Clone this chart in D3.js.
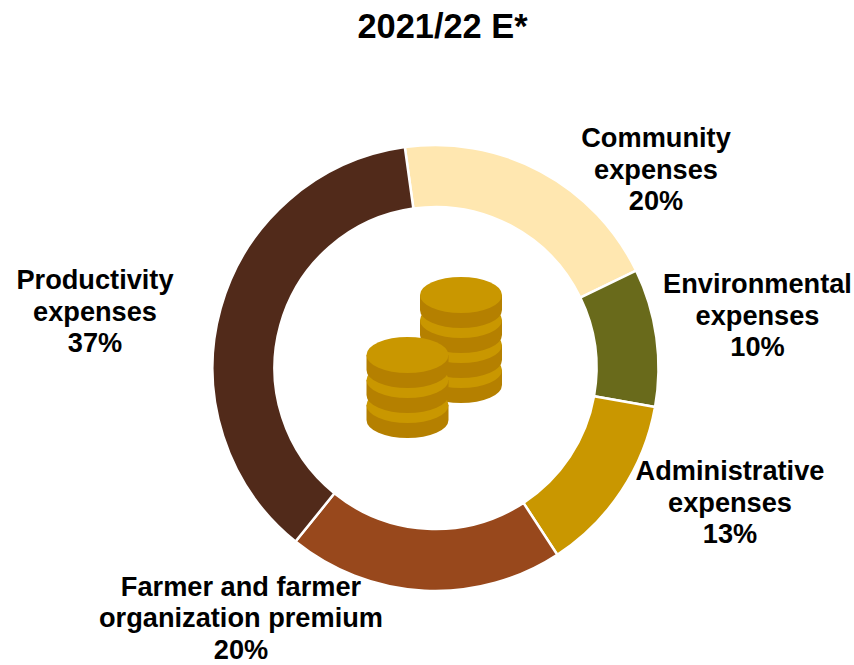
<!DOCTYPE html>
<html><head><meta charset="utf-8">
<script src="https://cdn.jsdelivr.net/npm/d3@7/dist/d3.min.js"></script>
<style>html,body{margin:0;padding:0;background:#fff}</style></head>
<body><svg id="c" width="854" height="665"></svg>
<script>
const title = "2021/22 E*";
const categories = ["Community expenses","Environmental expenses","Administrative expenses","Farmer and farmer organization premium","Productivity expenses"];
const values = [20,10,13,20,37];
const colors = ["#FFE7B0","#696A1B","#C99700","#98481C","#512A1A"];
const labelLines = [["Community","expenses","20%"],["Environmental","expenses","10%"],["Administrative","expenses","13%"],["Farmer and farmer","organization premium","20%"],["Productivity","expenses","37%"]];
const labelPos = [[656,139],[757.5,285],[730,472],[241,587.5],[95,281]];
const svg = d3.select("#c");
const font = "'Liberation Sans',Arial,sans-serif";
svg.append("text").attr("x",442.5).attr("y",37.5).attr("text-anchor","middle").attr("font-family",font).attr("font-weight",700).attr("font-size",34.4).attr("fill","#000").text(title);
const cx=435.5, cy=368, R=223, r=161;
const start=-0.138;
const arcs=d3.pie().sort(null).startAngle(start).endAngle(start+2*Math.PI)(values);
const arc=d3.arc().innerRadius(r).outerRadius(R);
const g=svg.append("g").attr("transform",`translate(${cx},${cy})`);
g.selectAll("path").data(arcs).join("path").attr("d",arc).attr("fill",(d,i)=>colors[i]).attr("stroke","#fff").attr("stroke-width",2.5);
labelLines.forEach((ls,i)=>{
  const t=svg.append("text").attr("text-anchor","middle").attr("font-family",font).attr("font-weight",700).attr("font-size",27.2).attr("fill","#000");
  ls.forEach((l,j)=>t.append("tspan").attr("x",labelPos[i][0]).attr("y",labelPos[i][1]+8+j*31.5).text(l));
});
// coin stacks
const stacks=[{x:461,top:295,n:4,gap:25},{x:407.5,top:355,n:3,gap:25}];
stacks.forEach(s=>{
  const gs=svg.append("g");
  d3.range(s.n-1,-1,-1).forEach(k=>{
    const y=s.top+k*s.gap;
    gs.append("path").attr("d",`M${s.x-41},${y} v15 a41,18 0 0 0 82,0 v-15 z`).attr("fill","#B58000");
    gs.append("ellipse").attr("cx",s.x).attr("cy",y).attr("rx",41).attr("ry",18).attr("fill","#C99700");
  });
});
</script></body></html>
